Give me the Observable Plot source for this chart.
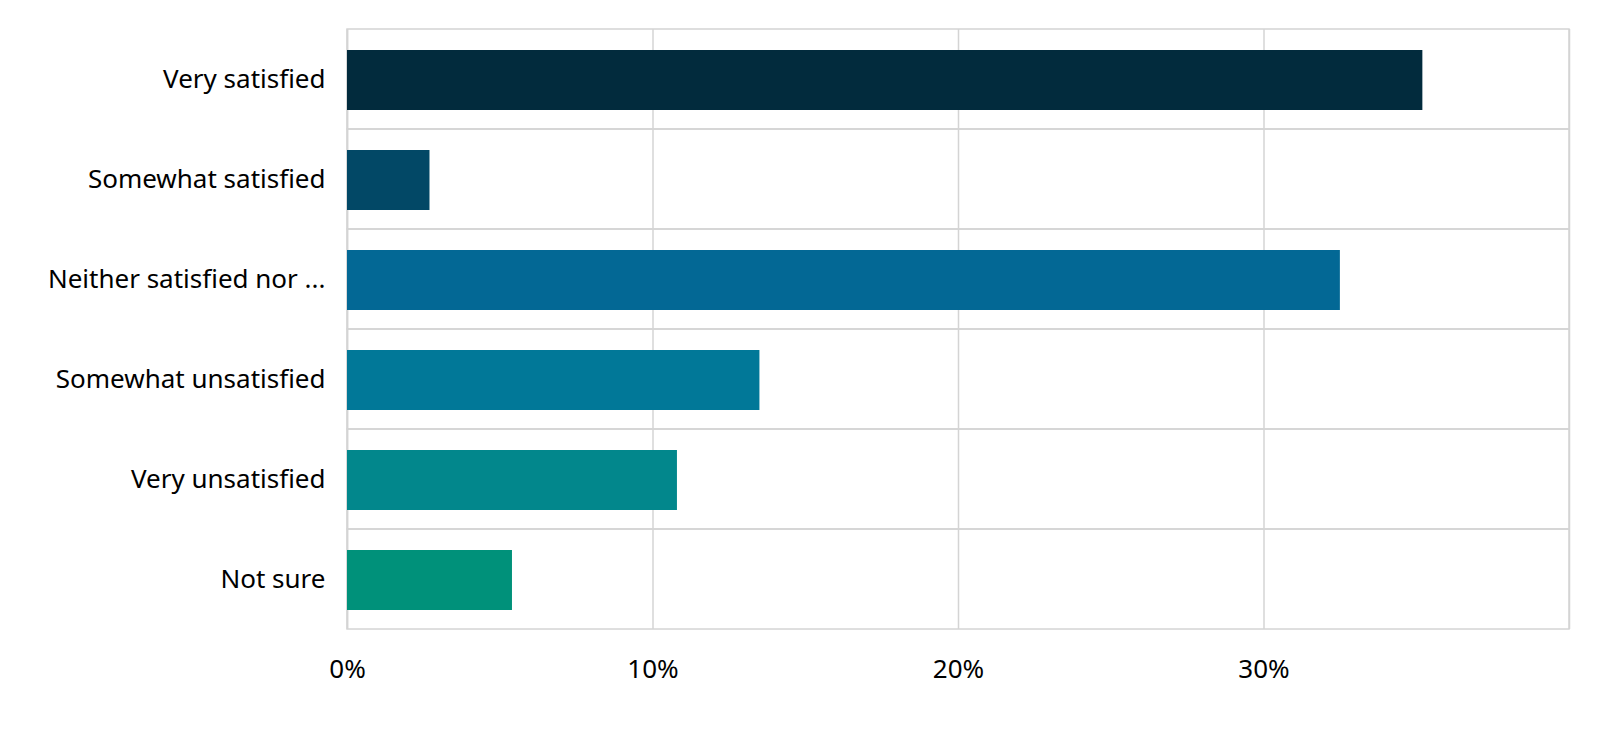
<!DOCTYPE html>
<html>
<head>
<meta charset="utf-8">
<script src="https://cdn.jsdelivr.net/npm/d3@7"></script>
<script src="https://cdn.jsdelivr.net/npm/@observablehq/plot@0.6"></script>
<style>
  html, body { margin: 0; padding: 0; background: #fff; }
  #chart svg { display: block; }
</style>
</head>
<body>
<div id="chart"></div>
<script>
const categories = ["Very satisfied", "Somewhat satisfied", "Neither satisfied nor ...", "Somewhat unsatisfied", "Very unsatisfied", "Not sure"];
const values = [35.2, 2.7, 32.5, 13.5, 10.8, 5.4];
const colors = ["#022b3d", "#024866", "#036895", "#017898", "#02878c", "#00917a"];
const xTicks = [0, 10, 20, 30];
const xMax = 40;

const data = categories.map((c, i) => ({category: c, value: values[i], color: colors[i]}));

const chart = Plot.plot({
  width: 1600,
  height: 738,
  marginLeft: 347,
  marginRight: 31,
  marginTop: 29,
  marginBottom: 109,
  style: {fontFamily: "'Noto Sans', sans-serif", fontSize: "26px", color: "#000", background: "#fff"},
  x: {domain: [0, xMax], ticks: xTicks, tickFormat: d => d + "%", tickSize: 0, tickPadding: 30, label: null},
  y: {domain: categories, padding: 0, tickSize: 0, tickPadding: 22, label: null},
  marks: [
    Plot.barX(categories, {x1: 0, x2: xMax, y: d => d, fill: "none", stroke: "#d4d4d4", strokeWidth: 1.5}),
    Plot.ruleX([0, ...xTicks, xMax], {stroke: "#d4d4d4", strokeWidth: 1.5}),
    Plot.barX(data, {x: "value", y: "category", fill: "color", insetTop: 21, insetBottom: 19})
  ]
});
document.getElementById("chart").appendChild(chart);
</script>
</body>
</html>
